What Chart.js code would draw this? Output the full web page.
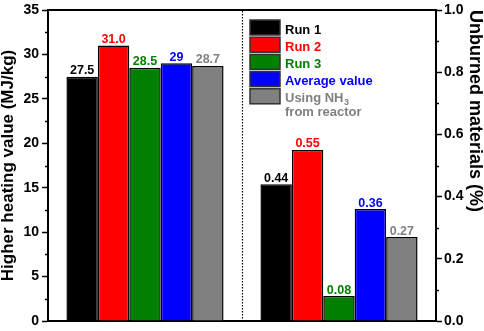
<!DOCTYPE html>
<html>
<head>
<meta charset="utf-8">
<script src="https://cdn.jsdelivr.net/npm/chart.js@4"></script>
<style>
  body { margin: 0; background: #fff; }
  #chart { display: block; }
</style>
</head>
<body>
<canvas id="chart" width="484" height="331"></canvas>
<script>
// two groups on one x axis: heating value (left axis) and unburned materials (right axis)
const groups = ["Higher heating value", "Unburned materials"];
const seriesNames = ["Run 1", "Run 2", "Run 3", "Average value", "Using NH3 from reactor"];
const seriesColors = ["#000000", "#ff0000", "#008000", "#0000ff", "#808080"];
const heatingValues = [27.5, 31.0, 28.5, 29.0, 28.7];
const heatingLabels = ["27.5", "31.0", "28.5", "29", "28.7"];
const unburnedValues = [0.44, 0.55, 0.08, 0.36, 0.27];
const unburnedLabels = ["0.44", "0.55", "0.08", "0.36", "0.27"];

const FONT = "'Liberation Sans', Arial, sans-serif";

const datasets = [];
seriesNames.forEach((name, i) => {
  datasets.push({
    label: name,
    data: [heatingValues[i], null],
    yAxisID: "y",
    backgroundColor: seriesColors[i],
    valueLabel: heatingLabels[i]
  });
});
seriesNames.forEach((name, i) => {
  datasets.push({
    label: name,
    data: [null, unburnedValues[i]],
    yAxisID: "y1",
    backgroundColor: seriesColors[i],
    valueLabel: unburnedLabels[i]
  });
});

function dividerX(chart) {
  const x = chart.scales.x;
  return (x.getPixelForValue(0) + x.getPixelForValue(1)) / 2;
}

// numbers above the bars
const valueLabels = {
  id: "valueLabels",
  afterDatasetsDraw(chart) {
    const ctx = chart.ctx;
    ctx.save();
    ctx.font = "bold 12.5px " + FONT;
    ctx.textAlign = "center";
    ctx.textBaseline = "alphabetic";
    chart.data.datasets.forEach((ds, di) => {
      chart.getDatasetMeta(di).data.forEach((bar, j) => {
        if (ds.data[j] == null) return;
        ctx.fillStyle = ds.backgroundColor;
        ctx.fillText(ds.valueLabel, bar.x, bar.y - 2.5);
      });
    });
    ctx.restore();
  }
};

// top frame line, minor ticks, dotted divider
const frame = {
  id: "frame",
  afterDraw(chart) {
    const { ctx, chartArea: a, scales } = chart;
    ctx.save();
    ctx.strokeStyle = "#000";
    ctx.lineWidth = 2;
    ctx.beginPath();
    ctx.moveTo(a.left - 1, a.top);
    ctx.lineTo(a.right + 1, a.top);
    ctx.stroke();

    ctx.lineWidth = 1.5;
    ctx.beginPath();
    for (let v = 2.5; v < 35; v += 5) {
      const y = Math.round(scales.y.getPixelForValue(v)) + 0.5;
      ctx.moveTo(a.left, y);
      ctx.lineTo(a.left - 3, y);
    }
    for (let v = 0.1; v < 1; v += 0.2) {
      const y = Math.round(scales.y1.getPixelForValue(v)) + 0.5;
      ctx.moveTo(a.right, y);
      ctx.lineTo(a.right + 3, y);
    }
    ctx.stroke();

    const xd = Math.round(dividerX(chart)) + 0.5;
    ctx.lineWidth = 1.2;
    ctx.setLineDash([1.5, 1.5]);
    ctx.beginPath();
    ctx.moveTo(xd, a.top + 1);
    ctx.lineTo(xd, a.bottom - 1);
    ctx.stroke();
    ctx.restore();
  }
};

// legend inside the right half of the plot
const insideLegend = {
  id: "insideLegend",
  afterDraw(chart) {
    const { ctx, chartArea: a } = chart;
    const x0 = dividerX(chart) + 8;
    let y = a.top + 10;
    ctx.save();
    ctx.textBaseline = "alphabetic";
    ctx.textAlign = "left";
    seriesNames.forEach((name, i) => {
      ctx.fillStyle = seriesColors[i];
      ctx.fillRect(x0, y, 30, 15);
      ctx.strokeStyle = "#333";
      ctx.lineWidth = 1.5;
      ctx.strokeRect(x0, y, 30, 15);
      ctx.fillStyle = seriesColors[i];
      ctx.font = "bold 13px " + FONT;
      const tx = x0 + 35, ty = y + 13.5;
      if (i === 4) {
        ctx.fillText("Using NH", tx, ty);
        const w = ctx.measureText("Using NH").width;
        ctx.font = "bold 9px " + FONT;
        ctx.fillText("3", tx + w + 0.5, ty + 3);
        ctx.font = "bold 13px " + FONT;
        ctx.fillText("from reactor", tx, ty + 14);
      } else {
        ctx.fillText(name, tx, ty);
      }
      y += 17.2;
    });
    ctx.restore();
  }
};

const tickFont = { family: FONT, size: 14, weight: "bold", lineHeight: 1 };
const titleFont = { family: FONT, size: 17, weight: "bold", lineHeight: 1 };

new Chart(document.getElementById("chart"), {
  type: "bar",
  data: { labels: groups, datasets: datasets },
  options: {
    responsive: false,
    animation: false,
    skipNull: true,
    categoryPercentage: 0.81,
    barPercentage: 1,
    borderColor: "#000",
    borderWidth: 1.5,
    layout: { padding: { top: 7, left: 0, right: 0, bottom: 0 } },
    plugins: {
      legend: { display: false },
      tooltip: { enabled: false }
    },
    scales: {
      x: {
        offset: true,
        grid: { display: false, drawTicks: false },
        border: { display: true, color: "#000", width: 2 },
        ticks: { display: false },
        afterFit(s) { s.height = 8; }
      },
      y: {
        position: "left",
        min: 0,
        max: 35,
        ticks: { stepSize: 5, color: "#000", font: tickFont, padding: 3 },
        grid: { drawOnChartArea: false, tickLength: 6, tickWidth: 1.5, tickColor: "#000" },
        border: { color: "#000", width: 2 },
        title: { display: true, text: "Higher heating value (MJ/kg)", color: "#000", font: titleFont, padding: 0 },
        afterFit(s) { s.width = 48; }
      },
      y1: {
        position: "right",
        min: 0,
        max: 1,
        ticks: { stepSize: 0.2, color: "#000", font: tickFont, padding: 2, callback: v => v.toFixed(1) },
        grid: { drawOnChartArea: false, tickLength: 6, tickWidth: 1.5, tickColor: "#000" },
        border: { color: "#000", width: 2 },
        title: {
          display: true, text: "Unburned materials (%)", color: "#000",
          font: { family: FONT, size: 18, weight: "bold", lineHeight: 1 }, padding: 0, align: "end"
        },
        afterFit(s) { s.width = 48; }
      }
    }
  },
  plugins: [valueLabels, frame, insideLegend]
});
</script>
</body>
</html>
